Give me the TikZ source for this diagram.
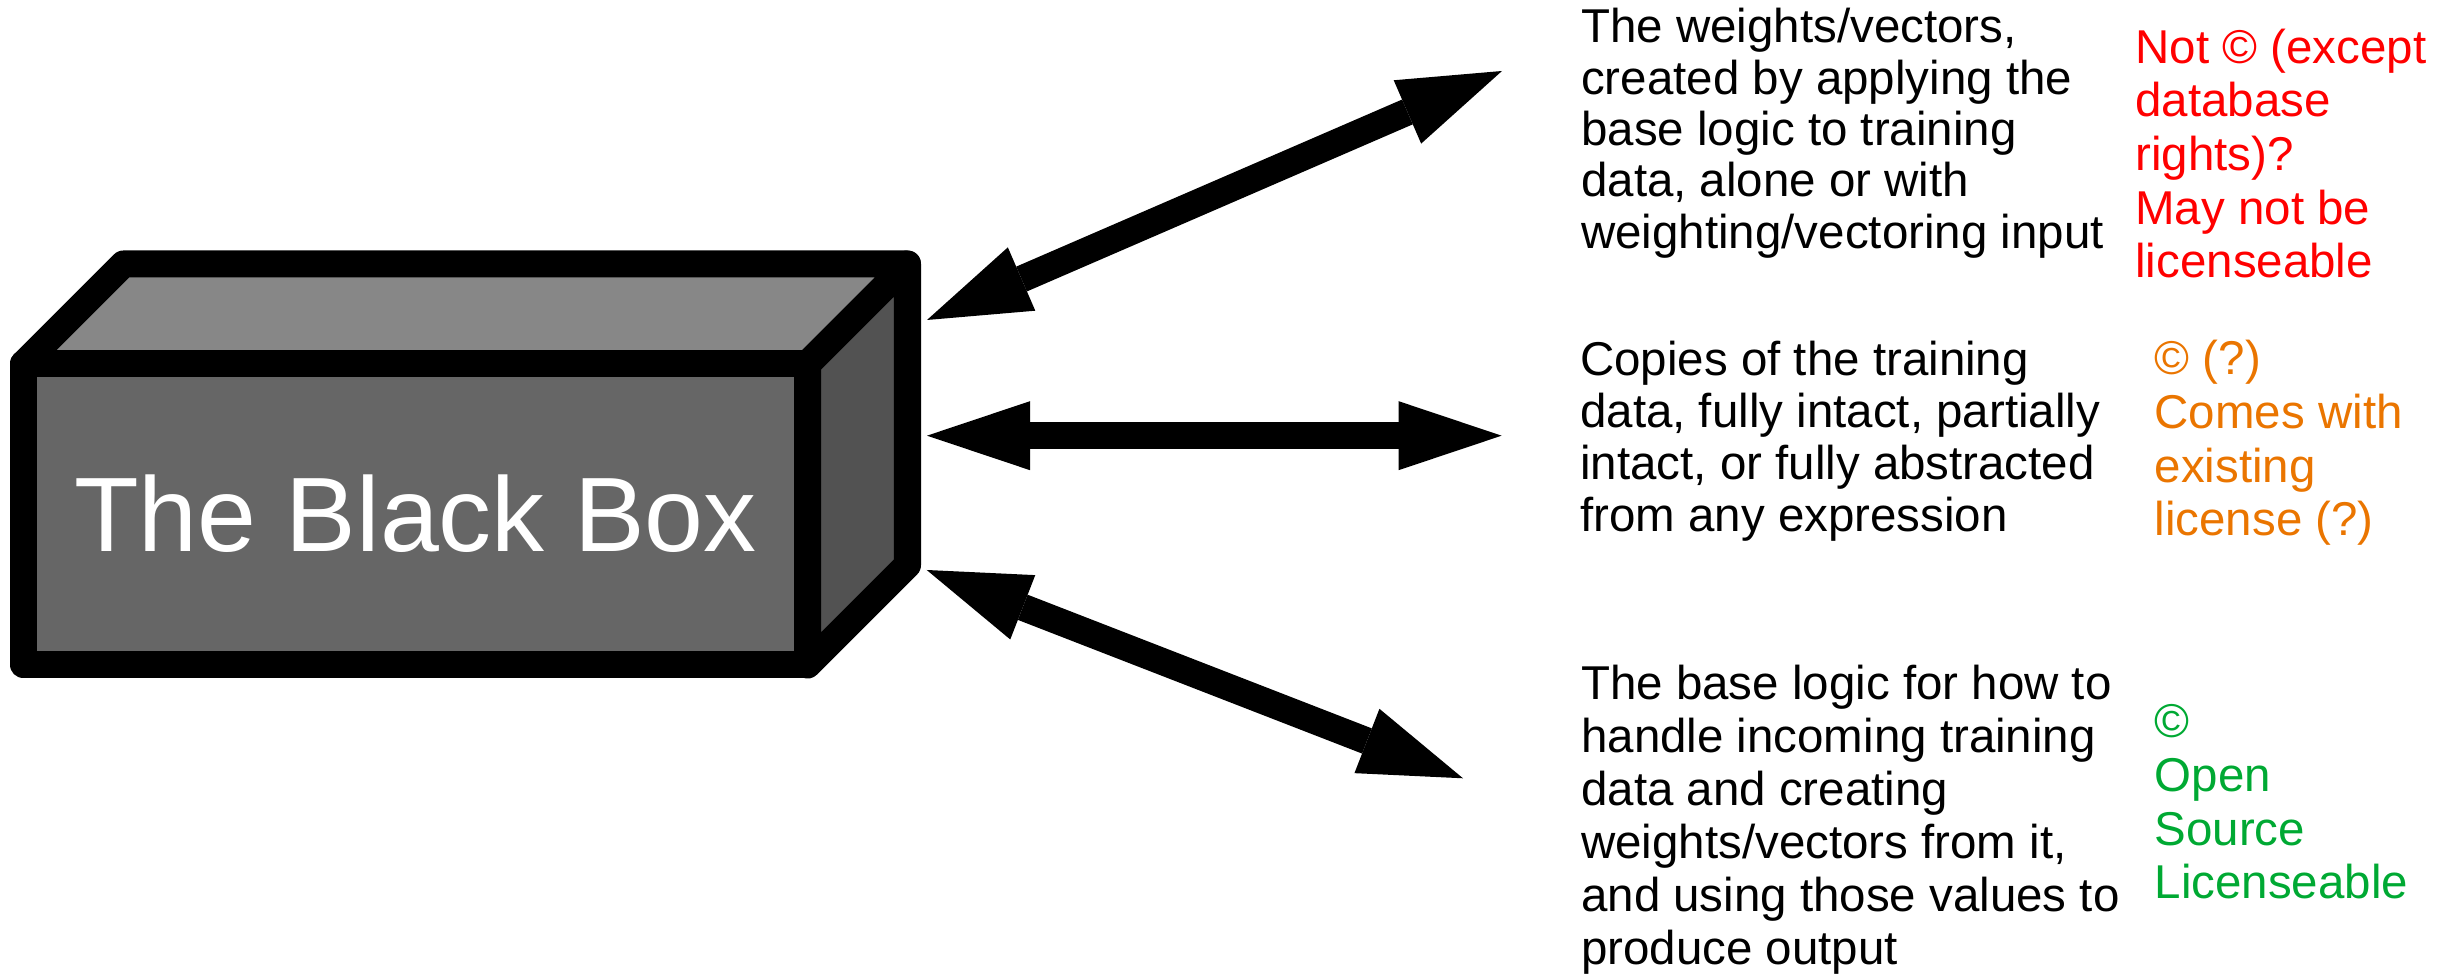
\documentclass[tikz,border=0pt]{standalone}
\usepackage{fontspec}
\setmainfont{Liberation Sans}
\usetikzlibrary{arrows.meta}
\definecolor{frontgray}{HTML}{666666}
\definecolor{topgray}{HTML}{878787}
\definecolor{sidegray}{HTML}{525252}
\definecolor{lored}{HTML}{FF0000}
\definecolor{loorange}{HTML}{EA7500}
\definecolor{logreen}{HTML}{00A933}
\tikzset{
  boxface/.style={draw=black, line width=0.27cm, line join=round, line cap=round},
  bigarrow/.style={line width=0.27cm, {Triangle[length=1.03cm,width=0.69cm,line width=0pt]}-{Triangle[length=1.03cm,width=0.69cm,line width=0pt]}},
  txt/.style={anchor=base west, inner sep=0pt, align=left, font=\fontsize{13.5pt}{#1}\selectfont},
}
\begin{document}
\begin{tikzpicture}[x=0.01cm, y=-0.01cm]
\useasboundingbox (0,0) rectangle (2459,977);
% the box
\coordinate (fA) at (23.5,364);
\coordinate (fB) at (807.5,364);
\coordinate (fC) at (807.5,665);
\coordinate (fD) at (23.5,665);
\coordinate (bA) at (123.5,264);
\coordinate (bB) at (907.5,264);
\coordinate (bC) at (907.5,565);
\path[boxface, fill=topgray] (fA) -- (bA) -- (bB) -- (fB) -- cycle;
\path[boxface, fill=sidegray] (fB) -- (bB) -- (bC) -- (fC) -- cycle;
\path[boxface, fill=frontgray] (fA) -- (fB) -- (fC) -- (fD) -- cycle;
\node[anchor=base, inner sep=0pt, text=white, font=\fontsize{30.1pt}{36pt}\selectfont] (boxlabel) at (415.5,551.7) {The Black Box};
% arrows
\coordinate (a1s) at (927,320);
\coordinate (a1e) at (1502,71);
\coordinate (a2s) at (927,435.7);
\coordinate (a2e) at (1501.6,435.7);
\coordinate (a3s) at (926.7,570);
\coordinate (a3e) at (1463,778.3);
\draw[bigarrow] (a1s) -- (a1e);
\draw[bigarrow] (a2s) -- (a2e);
\draw[bigarrow] (a3s) -- (a3e);
% descriptions (anchored at the baseline of the last line)
\node[txt=14.60pt, text=black] (d1) at (1580.5,248.3) {The weights/vectors,\\created by applying the\\base logic to training\\data, alone or with\\weighting/vectoring input};
\node[txt=15.25pt, text=lored] (n1) at (2134.7,277.7) {Not © (except\\database\\rights)?\\May not be\\licenseable};
\node[txt=14.77pt, text=black] (d2) at (1579.5,531.7) {Copies of the training\\data, fully intact, partially\\intact, or fully abstracted\\from any expression};
\node[txt=15.28pt, text=loorange] (n2) at (2154,536) {© (?)\\Comes with\\existing\\license (?)};
\node[txt=15.08pt, text=black] (d3) at (1580.5,965) {The base logic for how to\\handle incoming training\\data and creating\\weights/vectors from it,\\and using those values to\\produce output};
\node[txt=15.31pt, text=logreen] (n3) at (2154,899) {©\\Open\\Source\\Licenseable};
\end{tikzpicture}
\end{document}
